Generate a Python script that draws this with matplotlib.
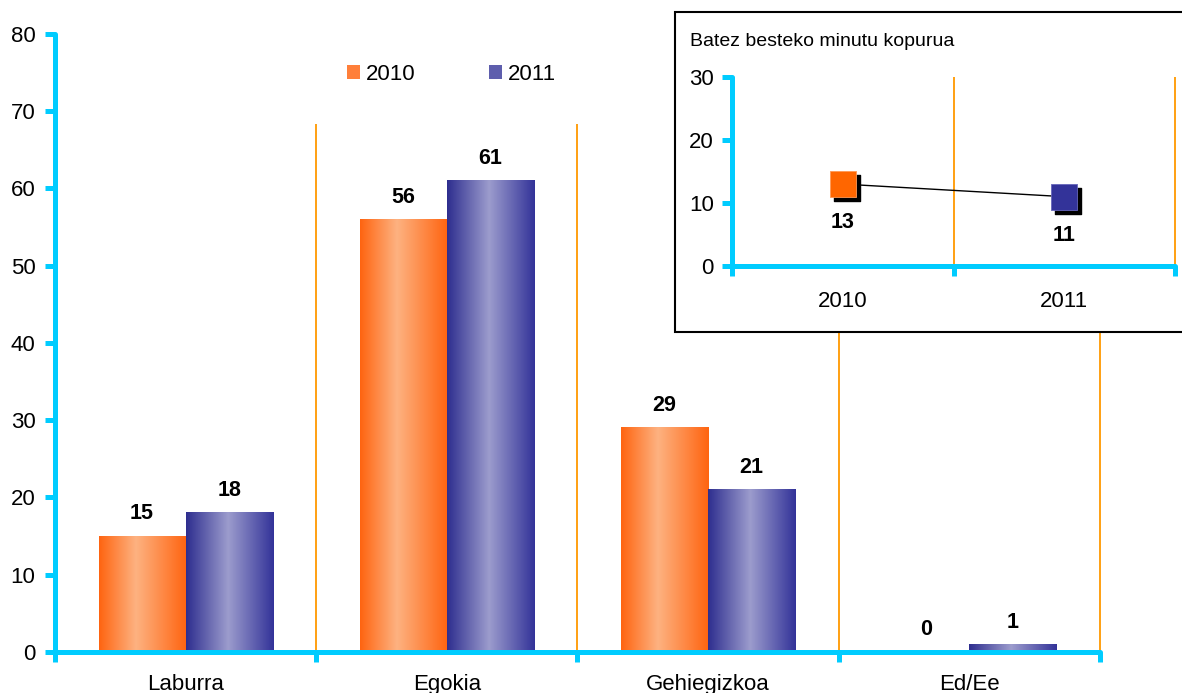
import numpy as np
import matplotlib
matplotlib.use("Agg")
import matplotlib.pyplot as plt
from matplotlib.colors import LinearSegmentedColormap
from matplotlib.patches import Rectangle, Patch
from matplotlib.transforms import offset_copy

plt.rcParams['font.family'] = ['Liberation Sans', 'DejaVu Sans']

# data
categories = ['Laburra', 'Egokia', 'Gehiegizkoa', 'Ed/Ee']
values_2010 = [15, 56, 29, 0]
values_2011 = [18, 61, 21, 1]
years = ['2010', '2011']
avg_minutes = [13, 11]

CYAN = '#00CCFF'
ORANGE_LINE = '#FF9900'
ORANGE = '#FF6600'
BLUE = '#333399'

orange_cmap = LinearSegmentedColormap.from_list(
    'org', [(0, '#FF6410'), (0.42, '#FDB281'), (1, '#FF6410')])
blue_cmap = LinearSegmentedColormap.from_list(
    'blu', [(0, '#2E2E8F'), (0.48, '#9C9CCD'), (1, '#333399')])
grad = np.linspace(0, 1, 256).reshape(1, -1)

fig = plt.figure(figsize=(11.82, 6.93), dpi=100)

# ---- main chart ----
ax = fig.add_axes([0.0465, 0.0592, 0.884, 0.892])
x = np.arange(len(categories))
w = 1 / 3

for vals, off, cmap in [(values_2010, -w / 2, orange_cmap), (values_2011, w / 2, blue_cmap)]:
    bars = ax.bar(x + off, vals, w, color='none', edgecolor='none', zorder=2)
    for b, v in zip(bars, vals):
        if v > 0:
            ax.imshow(grad, cmap=cmap, aspect='auto', zorder=2,
                      extent=[b.get_x(), b.get_x() + b.get_width(), 0, b.get_height()])
        ax.annotate(str(v), (b.get_x() + b.get_width() / 2, v), xytext=(0, 12),
                    textcoords='offset points', ha='center', va='baseline',
                    fontsize=15.5, fontweight='bold')

ax.vlines(x + 0.5, 0, 68.3, color=ORANGE_LINE, lw=1.3, zorder=1, clip_on=False)

ax.set_xlim(-0.5, 3.5)
ax.set_ylim(0, 80)
ax.set_yticks(range(0, 81, 10))
ax.set_xticks(np.arange(-0.5, 3.6, 1))
ax.set_xticklabels([])
ax.set_xticks(x, minor=True)
ax.set_xticklabels(categories, minor=True)
ax.tick_params(axis='y', length=7, width=3.6, color=CYAN, labelsize=16, pad=7)
ax.tick_params(axis='x', which='major', length=7, width=3.6, color=CYAN)
ax.tick_params(axis='x', which='minor', length=0, labelsize=16, pad=16)
for s in ['top', 'right']:
    ax.spines[s].set_visible(False)
for s in ['left', 'bottom']:
    ax.spines[s].set_color(CYAN)
    ax.spines[s].set_linewidth(3.6)
    ax.spines[s].set_capstyle('round')

leg = ax.legend(handles=[Patch(facecolor='#FF7F3A', label=years[0]),
                         Patch(facecolor='#5E5EAD', label=years[1])],
                loc='center left', bbox_to_anchor=(347 / 1182, (693 - 74) / 693),
                bbox_transform=fig.transFigure, ncol=2, frameon=False,
                fontsize=16, handlelength=0.6, handleheight=0.6,
                handletextpad=0.25, columnspacing=3.3, borderpad=0, borderaxespad=0)

# ---- inset ----
box = Rectangle((675 / 1182, (693 - 332) / 693), 0.5, (332 - 12) / 693,
                transform=fig.transFigure, facecolor='white', edgecolor='black',
                lw=1.5, zorder=1)
fig.add_artist(box)
fig.text(690 / 1182, (693 - 42) / 693, 'Batez besteko minutu kopurua',
         fontsize=14, va='center', ha='left', zorder=3)

ax2 = fig.add_axes([0.6193, 0.6162, 0.3748, 0.2727])
ax2.set_zorder(2)
ax2.patch.set_alpha(0)
xi = np.arange(len(years))
ax2.plot(xi, avg_minutes, color='black', lw=1, zorder=2)
shadow = offset_copy(ax2.transData, fig=fig, x=3, y=-3, units='points')
ax2.scatter(xi, avg_minutes, marker='s', s=18.5 ** 2, color='black',
            transform=shadow, zorder=3, clip_on=False)
ax2.scatter(xi, avg_minutes, marker='s', s=18.5 ** 2, c=[ORANGE, BLUE],
            edgecolors=['#FF9955', '#6666BB'], linewidths=0.6, zorder=4, clip_on=False)
for xx, v in zip(xi, avg_minutes):
    ax2.annotate(str(v), (xx, v), xytext=(0, -28), textcoords='offset points',
                 ha='center', va='center', fontsize=15.5, fontweight='bold')
ax2.vlines(xi + 0.5, 0, 30, color=ORANGE_LINE, lw=1.3, zorder=1, clip_on=False)
ax2.set_xlim(-0.5, 1.5)
ax2.set_ylim(0, 30)
ax2.set_yticks(range(0, 31, 10))
ax2.set_xticks([-0.5, 0.5, 1.5])
ax2.set_xticklabels([])
ax2.set_xticks(xi, minor=True)
ax2.set_xticklabels(years, minor=True)
ax2.tick_params(axis='y', length=7, width=3.6, color=CYAN, labelsize=16, pad=6)
ax2.tick_params(axis='x', which='major', length=7, width=3.6, color=CYAN)
ax2.tick_params(axis='x', which='minor', length=0, labelsize=16, pad=18)
for s in ['top', 'right']:
    ax2.spines[s].set_visible(False)
for s in ['left', 'bottom']:
    ax2.spines[s].set_color(CYAN)
    ax2.spines[s].set_linewidth(3.6)
    ax2.spines[s].set_capstyle('round')

fig.savefig('out.png', dpi=100)
